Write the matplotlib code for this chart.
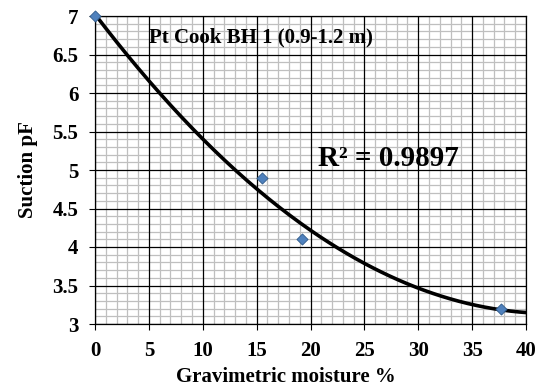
import numpy as np
import matplotlib
matplotlib.use("Agg")
import matplotlib.pyplot as plt
from matplotlib.ticker import MultipleLocator

moisture = [0.0, 15.5, 19.2, 37.7]
suction = [7.0, 4.9, 4.1, 3.2]
x_major = [0, 5, 10, 15, 20, 25, 30, 35, 40]
y_major = [3, 3.5, 4, 4.5, 5, 5.5, 6, 6.5, 7]
y_labels = ['3', '3.5', '4', '4.5', '5', '5.5', '6', '6.5', '7']
title_text = "Pt Cook BH 1 (0.9-1.2 m)"
r2_text = "R² = 0.9897"

plt.rcParams['font.family'] = ['Liberation Serif', 'DejaVu Serif']
plt.rcParams['font.weight'] = 'bold'

fig = plt.figure(figsize=(5.39, 3.90), dpi=100)
ax = fig.add_axes([95/539, 1-324/390, (526-95)/539, (324-16)/390])

coef = np.polyfit(moisture, suction, 2)
xs = np.linspace(0, 40, 200)

ax.set_xlim(0, 40)
ax.set_ylim(3, 7)
ax.xaxis.set_minor_locator(MultipleLocator(1))
ax.yaxis.set_minor_locator(MultipleLocator(0.1))
ax.grid(which='minor', color='#bfbfbf', lw=0.9)
ax.set_axisbelow(True)
for v in x_major:
    ax.axvline(v, color='black', lw=0.9, zorder=1)
for v in y_major:
    ax.axhline(v, color='black', lw=0.9, zorder=1)

ax.plot(xs, np.polyval(coef, xs), color='black', lw=2.6, zorder=3)
ax.scatter(moisture, suction, marker='D', s=32, facecolor='#4F81BD',
           edgecolor='#2F5A8A', linewidth=0.6, zorder=4, clip_on=False)

ax.set_xticks(x_major)
ax.set_yticks(y_major)
ax.set_yticklabels(y_labels)
ax.tick_params(which='minor', length=0)
ax.tick_params(which='major', length=4, width=0.8, labelsize=15, direction='out')
ax.tick_params(axis='x', pad=8)
ax.tick_params(axis='y', pad=8)
for lab in ax.get_xticklabels() + ax.get_yticklabels():
    lab.set_fontweight('bold')
for s in ax.spines.values():
    s.set_color('black')
    s.set_linewidth(0.9)

ax.set_xlabel("Gravimetric moisture %", fontsize=15, fontweight='bold')
ax.set_ylabel("Suction pF", fontsize=15, fontweight='bold')
ax.xaxis.set_label_coords(0.443, -0.14)
ax.yaxis.set_label_coords(-0.132, 0.5)

ax.text(5, 6.72, title_text, fontsize=15, fontweight='bold', va='center', ha='left')
ax.text(20.7, 5.15, r2_text, fontsize=21, fontweight='bold', va='center', ha='left')

fig.savefig("out.png", dpi=100)
